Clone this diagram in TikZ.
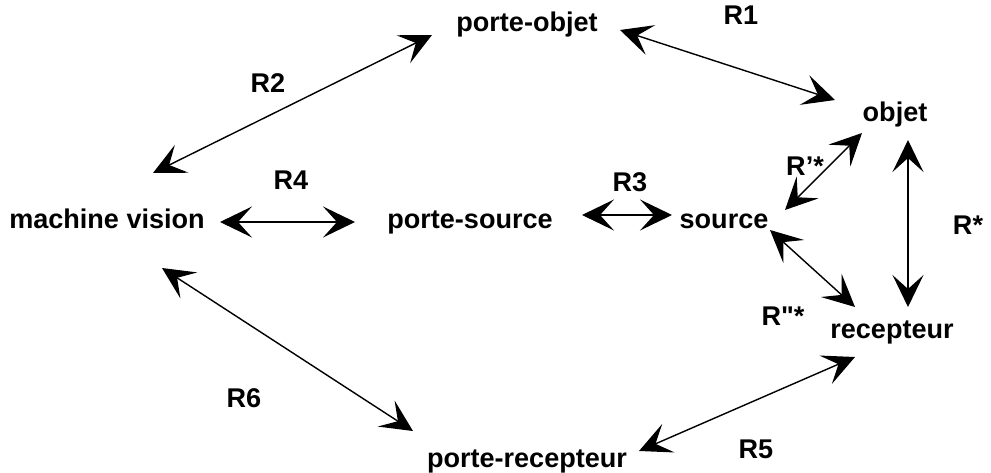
\documentclass[tikz,border=0pt]{standalone}
\usepackage{fontspec}
\setmainfont{Liberation Sans}
\newfontfamily\plainsans[Ligatures=TeXOff]{Liberation Sans}
\usetikzlibrary{arrows.meta}
\begin{document}
\begin{tikzpicture}[x=0.02cm, y=-0.02cm,
  every node/.style={anchor=base, inner sep=0pt, font=\fontsize{15.4}{18}\selectfont\bfseries},
  rel/.style={{Stealth[length=0.64cm, width=0.62cm, inset=0.28cm]}-{Stealth[length=0.64cm, width=0.62cm, inset=0.28cm]}, line width=0.8pt}]
\useasboundingbox (0,0) rectangle (991,473);
\node (mv) at (107,228) {machine vision};
\node (psrc) at (470,228) {porte-source};
\node (src) at (724,228) {source};
\node (pobj) at (527,32) {porte-objet};
\node (obj) at (895,122) {objet};
\node (rec) at (892,338) {recepteur};
\node (prec) at (527,467) {porte-recepteur};
\node (r1) at (741,25) {R1};
\node (r2) at (268,92) {R2};
\node (r3) at (630,192) {R3};
\node (r4) at (291,190) {R4};
\node (r5) at (756,458) {R5};
\node (r6) at (244,407) {R6};
\node (rps) at (805,175) {R'*};
\node (rs) at (968,235) {R*};
\node (rpps) at (783,325) {\plainsans R"*};
\draw[rel] ([shift={(46,-55)}]mv.base) -- ([shift={(-95,3)}]pobj.base);
\draw[rel] ([shift={(93,-2)}]pobj.base) -- ([shift={(-60,-22)}]obj.base);
\draw[rel] ([shift={(113,-6)}]mv.base) -- ([shift={(-115,-6)}]psrc.base);
\draw[rel] ([shift={(112,-13)}]psrc.base) -- ([shift={(-52,-13)}]src.base);
\draw[rel] ([shift={(-33,11)}]obj.base) -- ([shift={(61,-18)}]src.base);
\draw[rel] ([shift={(13,18)}]obj.base) -- ([shift={(16,-31)}]rec.base);
\draw[rel] ([shift={(46,2)}]src.base) -- ([shift={(-37,-31)}]rec.base);
\draw[rel] ([shift={(55,40)}]mv.base) -- ([shift={(-114,-36)}]prec.base);
\draw[rel] ([shift={(-37,19)}]rec.base) -- ([shift={(112,-16)}]prec.base);
\end{tikzpicture}
\end{document}
